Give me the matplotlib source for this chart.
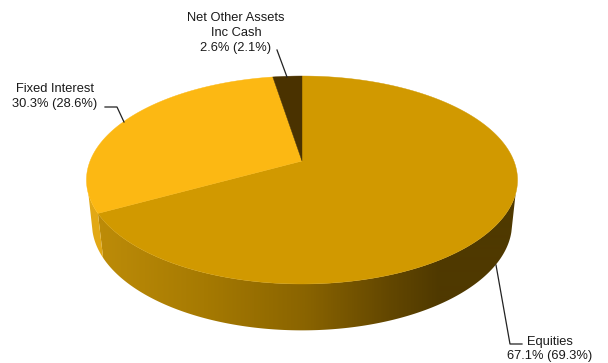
import numpy as np
import matplotlib
matplotlib.use("Agg")
import matplotlib.pyplot as plt
from matplotlib.colors import LinearSegmentedColormap
from matplotlib.patches import Polygon

# slices run clockwise from twelve o'clock
names = ["Equities", "Fixed Interest", "Net Other Assets\nInc Cash"]
current = [67.1, 30.3, 2.6]
previous = [69.3, 28.6, 2.1]

top_colors = ["#D19900", "#FCB813", "#4A3200"]
fixed_side = "#E2A815"

CX = 302.0
TILT = 0.1827


def project(t, a, b, k):
    # perspective view of a flat disc; t is degrees clockwise from the top
    u = np.sin(np.radians(t))
    v = np.cos(np.radians(t))
    den = 1 + TILT * v
    return CX + k * u / den, (a * v + b) / den


def top_rim(t):
    return project(t, -71.1, 161.0, 211.9)


def bottom_rim(t):
    return project(t, -66.0, 204.0, 206.5)


def side_outline(edge, top_end, bottom_end):
    # wall between the slice edge and the tangent line joining the two rims
    x1, y1 = top_rim(np.linspace(top_end, edge, 200))
    x2, y2 = bottom_rim(np.linspace(edge, bottom_end, 200))
    return np.c_[np.r_[x1, x2], np.r_[y1, y2]]


fig = plt.figure(figsize=(6.08, 3.63), dpi=100)
ax = fig.add_axes([0, 0, 1, 1])

bounds = np.cumsum([0] + current) / sum(current) * 360

# side wall of the big slice, darkening towards the right
shade = LinearSegmentedColormap.from_list(
    "shade",
    [(0.0, "#BC8B08"), (0.3, "#A67A02"), (0.6, "#8A6400"),
     (0.85, "#634700"), (1.0, "#4F3900")],
)
wall = Polygon(side_outline(bounds[1], 108, 105), closed=True, facecolor="none", edgecolor="none")
ax.add_patch(wall)
ramp = np.clip((np.arange(608) + 0.5 - 103) / (440 - 103), 0, 1)
img = ax.imshow(ramp[np.newaxis, :], cmap=shade, vmin=0, vmax=1, aspect="auto",
                extent=(0, 608, 363, 0), interpolation="bilinear", zorder=1)
img.set_clip_path(wall)

ax.add_patch(Polygon(side_outline(bounds[1], 252, 255), closed=True, facecolor=fixed_side,
                     edgecolor="none", zorder=1))

# top face
for i in range(len(current)):
    t = np.linspace(bounds[i], bounds[i + 1], 200)
    x, y = top_rim(t)
    ax.fill(np.r_[CX, x], np.r_[161.0, y], color=top_colors[i], lw=0.3, zorder=3)

ax.set_xlim(0, 608)
ax.set_ylim(363, 0)
ax.axis("off")

# leader lines
ax.plot([496, 510, 522], [265, 344, 344], color="#222222", lw=0.9, zorder=4)
ax.plot([105, 117, 124], [107, 107, 122], color="#222222", lw=0.9, zorder=4)
ax.plot([277, 287], [50, 77], color="#222222", lw=0.9, zorder=4)

label_pos = [(550, 349), (55, 96.5), (236, 33)]
for name, cur, prev, (lx, ly) in zip(names, current, previous, label_pos):
    ax.text(lx, ly, f"{name}\n{cur}% ({prev}%)", ha="center", va="center",
            fontsize=9.3, family="Liberation Sans", color="#1a1a1a",
            linespacing=1.29, zorder=5)

fig.savefig("out.png", dpi=100)
plt.close(fig)
